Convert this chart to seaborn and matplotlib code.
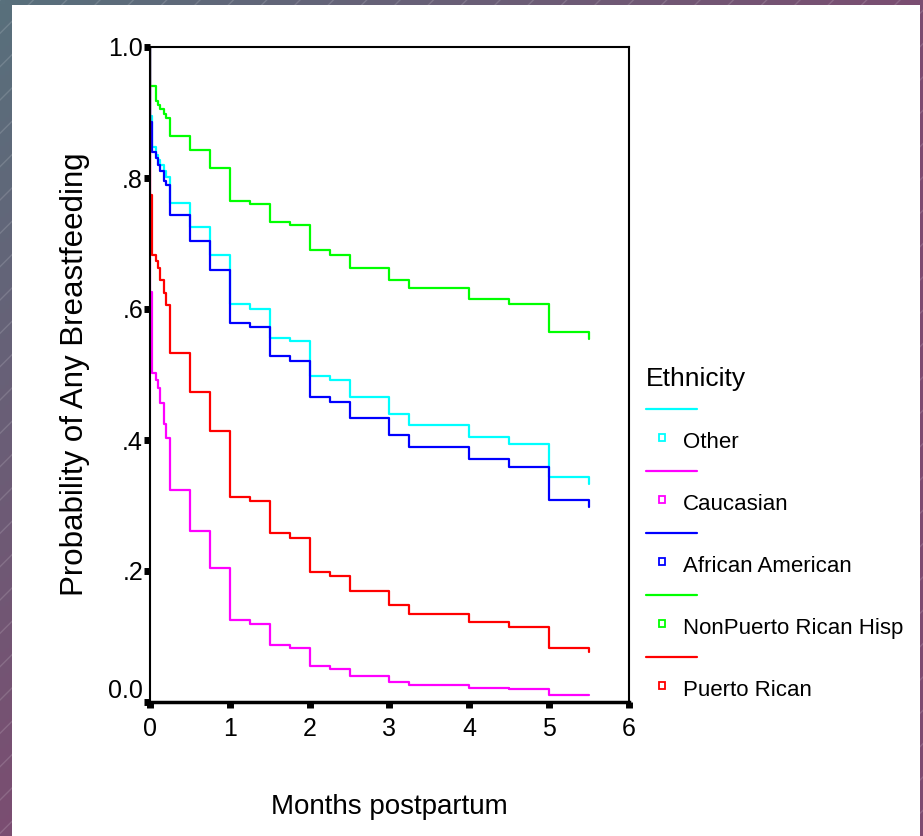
import matplotlib
matplotlib.use('Agg')
import matplotlib.pyplot as plt
import matplotlib.transforms as mtransforms
from matplotlib.lines import Line2D
from matplotlib.patches import Rectangle
import numpy as np
import pandas as pd
import seaborn as sns

# step times (months postpartum); first point is the 1.0 start
months = [0, 0, 0.03, 0.07, 0.1, 0.13, 0.17, 0.2, 0.25, 0.5, 0.75, 1, 1.25, 1.5,
          1.75, 2, 2.25, 2.5, 3, 3.25, 4, 4.5, 5, 5.5]

other = [1.0, 0.894, 0.848, 0.835, 0.827, 0.820, 0.810, 0.802, 0.762, 0.725,
         0.682, 0.607, 0.600, 0.556, 0.551, 0.498, 0.491, 0.466, 0.440, 0.423,
         0.405, 0.394, 0.344, 0.333]
caucasian = [1.0, 0.626, 0.502, 0.492, 0.480, 0.456, 0.424, 0.403, 0.323, 0.261,
             0.205, 0.125, 0.119, 0.087, 0.082, 0.055, 0.050, 0.040, 0.031, 0.026,
             0.022, 0.020, 0.010, 0.010]
african_american = [1.0, 0.886, 0.840, 0.830, 0.820, 0.810, 0.796, 0.789, 0.744,
                    0.704, 0.659, 0.578, 0.573, 0.528, 0.520, 0.466, 0.458, 0.434,
                    0.408, 0.389, 0.371, 0.359, 0.308, 0.298]
nonpr_hisp = [1.0, 0.941, 0.941, 0.917, 0.912, 0.906, 0.897, 0.891, 0.864, 0.843,
              0.816, 0.765, 0.760, 0.733, 0.728, 0.690, 0.682, 0.663, 0.645, 0.632,
              0.616, 0.608, 0.565, 0.554]
puerto_rican = [1.0, 0.774, 0.682, 0.673, 0.663, 0.644, 0.625, 0.606, 0.533, 0.474,
                0.413, 0.313, 0.307, 0.258, 0.251, 0.199, 0.192, 0.170, 0.148, 0.135,
                0.122, 0.114, 0.082, 0.077]

groups = ['Other', 'Caucasian', 'African American', 'NonPuerto Rican Hisp', 'Puerto Rican']
colors = ['#00FFFF', '#FF00FF', '#0000FF', '#00FF00', '#FF0000']

xticks = [0, 1, 2, 3, 4, 5, 6]
yticks = [0.0, 0.2, 0.4, 0.6, 0.8, 1.0]
ytick_labels = ['0.0', '.2', '.4', '.6', '.8', '1.0']

df = pd.concat([
    pd.DataFrame({'months': months, 'prob': vals, 'Ethnicity': g})
    for g, vals in zip(groups, [other, caucasian, african_american, nonpr_hisp, puerto_rican])
], ignore_index=True)

sns.set_style('ticks')
plt.rcParams['font.family'] = ['Liberation Sans', 'DejaVu Sans']
plt.rcParams['text.color'] = 'black'
plt.rcParams['axes.labelcolor'] = 'black'

fig = plt.figure(figsize=(9.23, 8.36), dpi=100)

# slide-like background: gradient border, hatch texture, white panel
bg = fig.add_axes([0, 0, 1, 1], zorder=-10)
u, v = np.meshgrid(np.linspace(0, 1, 200), np.linspace(0, 1, 200))
t = np.clip((u + v) / 1.1, 0, 1)[..., None]
c0 = np.array([88, 112, 124]) / 255
c1 = np.array([126, 74, 112]) / 255
bg.imshow(c0 * (1 - t) + c1 * t, extent=[0, 1, 0, 1], aspect='auto', origin='upper')
bg.add_patch(Rectangle((0, 0), 1, 1, facecolor='none', hatch='/',
                       edgecolor=(1, 1, 1, 0.15), lw=0))
bg.add_patch(Rectangle((12 / 923, 0), 908 / 923, 831 / 836, facecolor='white', lw=0))
bg.set_xlim(0, 1)
bg.set_ylim(0, 1)
bg.axis('off')

ax = fig.add_axes([150 / 923, 1 - 702 / 836, 479 / 923, 655 / 836])
sns.lineplot(data=df, x='months', y='prob', hue='Ethnicity', palette=colors,
             hue_order=groups, estimator=None, sort=False, drawstyle='steps-post',
             linewidth=1.6, legend=False, ax=ax)

ax.set_xlim(0, 6)
ax.set_ylim(0, 1)
ax.set_xticks(xticks)
ax.set_yticks(yticks)
ax.set_yticklabels(ytick_labels)
ax.tick_params(axis='both', direction='out', length=4, width=5, color='black',
               labelsize=18, labelcolor='black')
ax.tick_params(axis='y', pad=1)
ax.tick_params(axis='x', pad=7)
for side in ['left', 'top', 'right']:
    ax.spines[side].set_color('black')
    ax.spines[side].set_linewidth(1.5)
ax.spines['bottom'].set_color('black')
ax.spines['bottom'].set_linewidth(2.5)

# SPSS nudges the 0.0 label up
lab0 = ax.get_yticklabels()[0]
lab0.set_transform(lab0.get_transform() +
                   mtransforms.ScaledTranslation(0, 13 / 100, fig.dpi_scale_trans))

ax.set_xlabel('Months postpartum', fontsize=20, labelpad=38)
ax.set_ylabel('Probability of Any Breastfeeding', fontsize=22.5, labelpad=13)


class SquareHandler:
    def legend_artist(self, legend, orig_handle, fontsize, handlebox):
        x0, y0 = handlebox.xdescent, handlebox.ydescent
        s = 4.5
        sq = Rectangle((x0 + 9, y0 + handlebox.height / 2 - s / 2 + 2), s, s,
                       facecolor='white', edgecolor=orig_handle.get_color(), lw=1.3,
                       transform=handlebox.get_transform())
        handlebox.add_artist(sq)
        return sq


handles, labels, hmap = [], [], {}
for g, c in zip(groups, colors):
    ln = Line2D([], [], color=c, lw=1.6)
    sq = Line2D([], [], color=c)
    handles += [ln, sq]
    labels += [' ', g]
    hmap[sq] = SquareHandler()

leg = fig.legend(handles, labels, handler_map=hmap, loc='upper left',
                 bbox_to_anchor=(646 / 923, 1 - 367 / 836), frameon=False,
                 title='Ethnicity', title_fontsize=19, fontsize=16, alignment='left',
                 handlelength=2.3, handletextpad=-0.63, labelspacing=0.45,
                 borderpad=0, borderaxespad=0)
for txt in leg.get_texts():
    txt.set_color('black')

fig.savefig('out.png', dpi=100)
